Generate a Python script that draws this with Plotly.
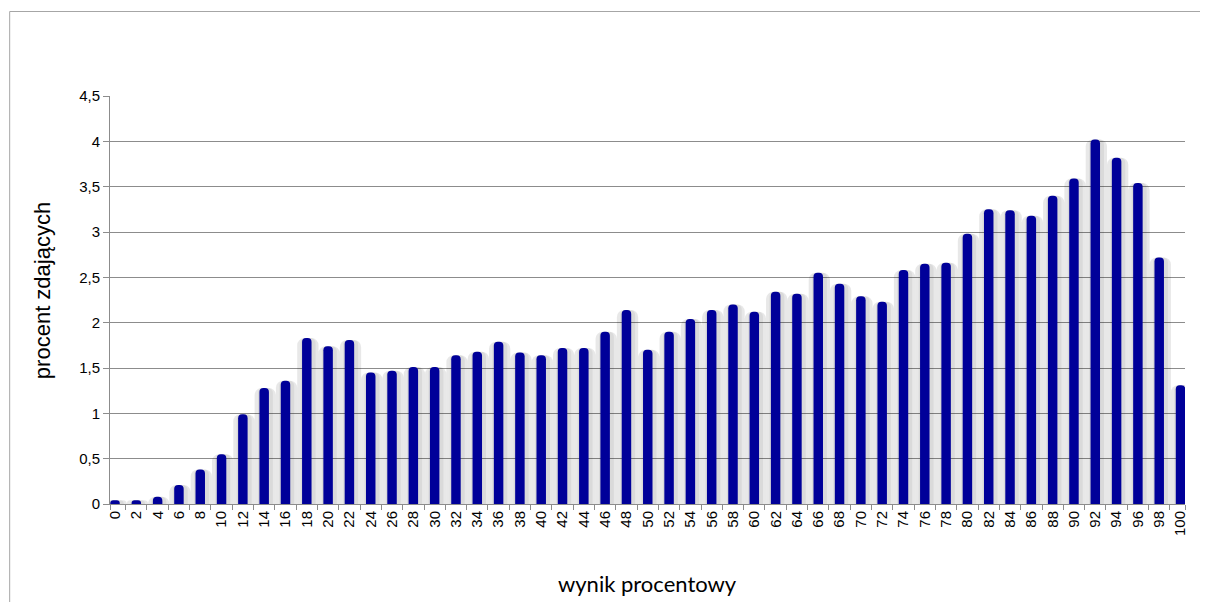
import plotly.graph_objects as go

# ---- data ----
wynik = [0, 2, 4, 6, 8, 10, 12, 14, 16, 18, 20, 22, 24, 26, 28, 30, 32, 34, 36, 38,
         40, 42, 44, 46, 48, 50, 52, 54, 56, 58, 60, 62, 64, 66, 68, 70, 72, 74, 76, 78,
         80, 82, 84, 86, 88, 90, 92, 94, 96, 98, 100]
procent = [0.04, 0.04, 0.08, 0.21, 0.38, 0.55, 0.99, 1.28, 1.36, 1.83, 1.74, 1.81,
           1.45, 1.47, 1.51, 1.51, 1.64, 1.68, 1.79, 1.67, 1.64, 1.72, 1.72, 1.90,
           2.14, 1.70, 1.90, 2.04, 2.14, 2.20, 2.12, 2.34, 2.32, 2.55, 2.43, 2.29,
           2.23, 2.58, 2.65, 2.66, 2.98, 3.25, 3.24, 3.18, 3.40, 3.59, 4.02, 3.82,
           3.54, 2.72, 1.31]
tick_labels = [str(v) for v in wynik]
y_ticks = [0, 0.5, 1, 1.5, 2, 2.5, 3, 3.5, 4, 4.5]

BAR_W = 0.89
GRID = "#8c8c8c"

# page body has an 8px margin: figure starts at (8, 8) in the window
OFF = 8
FW, FH = 1208 - 2 * OFF, 610 - 2 * OFF   # avoid any scrollbars
PL, PR, PT, PB = 110, 1187, 96, 504      # plot area in window pixels
PW, PH = PR - PL, PB - PT

fig = go.Figure()
# soft shadow layers
fig.add_trace(go.Bar(x=wynik, y=procent, width=2.0, offset=-1.0 + 0.1,
                     marker=dict(color="rgba(0,0,0,0.09)", line=dict(width=0), cornerradius=7),
                     hoverinfo="skip", showlegend=False))
fig.add_trace(go.Bar(x=wynik, y=procent, width=1.4, offset=-0.7 + 0.12,
                     marker=dict(color="rgba(0,0,0,0.06)", line=dict(width=0), cornerradius=5),
                     hoverinfo="skip", showlegend=False))
# main bars
fig.add_trace(go.Bar(x=wynik, y=procent, width=BAR_W, offset=-BAR_W / 2,
                     marker=dict(color="#000099", line=dict(width=0), cornerradius=4),
                     showlegend=False))

minor_ticks = [v + 1 for v in wynik[:-1]] + [wynik[0] - 0.47, wynik[-1] + 0.42]

fig.update_layout(
    width=FW, height=FH,
    margin=dict(l=PL - OFF, r=OFF + FW - PR, t=PT - OFF, b=OFF + FH - PB),
    paper_bgcolor="white", plot_bgcolor="white",
    barmode="overlay",
    separators=", ",
    font=dict(family="Liberation Sans, Arial, sans-serif", color="black", size=15),
    xaxis=dict(
        range=[-0.47, 100.42],
        tickmode="array", tickvals=wynik, ticktext=tick_labels,
        tickangle=-90, ticks="", showgrid=False, zeroline=False,
        showline=True, linecolor=GRID, linewidth=1,
        tickfont=dict(size=15),
        minor=dict(tickmode="array", tickvals=minor_ticks, ticks="outside",
                   ticklen=5, tickcolor=GRID, showgrid=False),
    ),
    yaxis=dict(
        range=[0, 4.5], tickmode="array", tickvals=y_ticks,
        ticks="outside", ticklen=6, tickcolor=GRID,
        showgrid=True, gridcolor=GRID, gridwidth=1,
        zeroline=False, showline=True, linecolor=GRID, linewidth=1,
        tickfont=dict(size=15),
    ),
    annotations=[
        dict(text="procent zdających", xref="paper", yref="paper",
             x=(42 - PL) / PW, y=(PB - 291) / PH, textangle=-90,
             showarrow=False, xanchor="center", yanchor="middle",
             font=dict(size=22, family="Liberation Sans, Arial, sans-serif")),
        dict(text="wynik procentowy", xref="paper", yref="paper",
             x=(648 - PL) / PW, y=(PB - 583) / PH,
             showarrow=False, xanchor="center", yanchor="middle",
             font=dict(size=22, family="Lato, Carlito, sans-serif")),
    ],
    shapes=[
        dict(type="rect", xref="paper", yref="paper",
             x0=(9.5 - PL) / PW, x1=(1230 - PL) / PW,
             y0=(PB - 640) / PH, y1=(PB - 11.5) / PH,
             line=dict(color="#a6a6a6", width=1), fillcolor="rgba(0,0,0,0)",
             layer="below"),
    ],
)

fig.write_html("out.html")
